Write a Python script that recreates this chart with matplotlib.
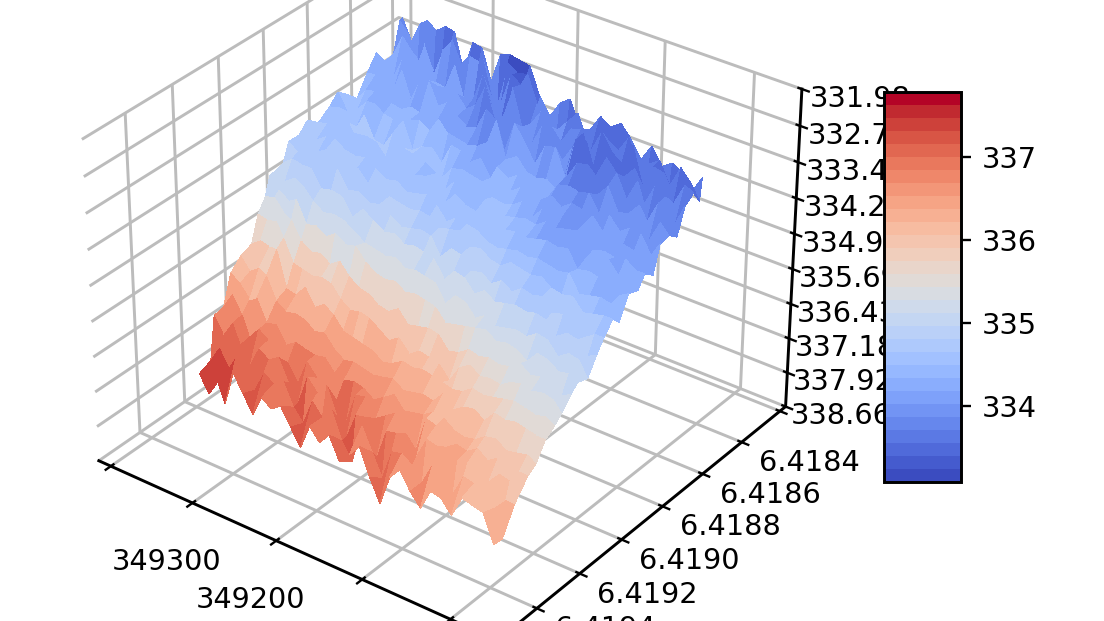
import matplotlib
matplotlib.use("Agg")
import matplotlib.pyplot as plt
import numpy as np
from matplotlib.ticker import LinearLocator, FormatStrFormatter
from mpl_toolkits.mplot3d import proj3d

x_values = [349384, 349370, 349356, 349342, 349328, 349314, 349300, 349286, 349272, 349258, 349244,
            349230, 349216, 349202, 349188, 349174, 349159, 349145, 349131, 349117, 349103, 349089,
            349075, 349061, 349047, 349033, 349019, 349005, 348991, 348977, 348963, 348949]
y_values = [6.41929, 6.41920, 6.41914, 6.41909, 6.41905, 6.41900, 6.41895, 6.41891, 6.41886, 6.41882,
            6.41877, 6.41872, 6.41868, 6.41863, 6.41859, 6.41854, 6.41849, 6.41845, 6.41840, 6.41836,
            6.41831, 6.41826, 6.41822, 6.41817, 6.41813, 6.41811]
y_shift = [0, .00001, .00002, .00004, .00005, .00006, .00007, .00008, .00009, .00010, .00011, .00012,
           .00013, .00014, .00015, .00016, .00017, .00018, .00019, .00020, .00021, .00022, .00023,
           .00024, .00025, .00026, .00027, .00028, .00029, .00030, .00031, .00033]
x_skew = [-15, -6, 4, 6, 7, 9, 11, 13, 15, 17, 18, 20, 22, 24, 26, 28, 29, 31, 33, 35, 37, 39, 40, 42, 44, 46]
x_shift = [0, 2, 3, 3, 3, 2, 0, 0, 2, 5, 10, 12, 14, 12, 10, 8, 6, 4, 2, 0, -2, -3, -4, -4, -4, -4]
row_weight = [1, 1, .9, .8, .7, .6, .5, .4, .3, .2, .1, 0, 0, 0, 0, 0, 0, 0, 0, 0, 0, 0, 0, 0, 0, 0, 0, 0, 0, 0, 0, 0]
z_values = [
    [337.4, 337.5, 336.8, 336.8, 336.2, 336.0, 335.9, 335.4, 335.2, 334.9, 335.0, 335.0, 334.7, 334.7, 334.5, 334.7, 334.5, 334.3, 334.5, 334.7, 334.3, 334.0, 334.3, 334.3, 333.7, 333.7],
    [337.7, 337.1, 337.1, 336.4, 336.3, 336.2, 335.7, 335.4, 335.1, 335.1, 335.1, 334.8, 334.8, 334.6, 334.8, 334.6, 334.4, 334.6, 334.7, 334.4, 334.2, 334.3, 334.5, 333.8, 333.9, 334.1],
    [337.3, 337.4, 336.7, 336.7, 336.5, 336.0, 335.7, 335.3, 335.3, 335.2, 334.9, 334.8, 334.6, 334.8, 334.6, 334.4, 334.6, 334.8, 334.4, 334.3, 334.3, 334.5, 334.0, 334.0, 334.3, 333.6],
    [337.6, 337.0, 337.0, 337.0, 336.3, 336.0, 335.6, 335.5, 335.3, 335.0, 334.9, 334.7, 334.8, 334.6, 334.5, 334.6, 334.8, 334.4, 334.3, 334.3, 334.4, 334.0, 334.2, 334.4, 333.8, 333.4],
    [336.8, 337.1, 337.3, 336.7, 336.7, 336.4, 336.3, 335.9, 335.6, 335.4, 335.1, 335.0, 334.7, 334.9, 334.6, 334.4, 334.6, 334.8, 334.4, 334.3, 334.3, 334.5, 333.9, 333.9, 334.3, 333.5],
    [337.1, 337.4, 336.8, 336.8, 336.6, 336.5, 336.3, 335.9, 335.7, 335.3, 335.2, 334.9, 334.6, 334.9, 334.6, 334.4, 334.6, 334.8, 334.4, 334.3, 334.4, 334.0, 334.1, 334.3, 333.7, 333.3],
    [337.4, 336.9, 336.9, 336.6, 336.9, 336.4, 336.0, 335.9, 335.6, 335.4, 335.1, 334.9, 334.9, 334.6, 334.5, 334.7, 334.8, 334.4, 334.3, 334.4, 334.4, 333.9, 334.1, 334.3, 333.4, 333.3],
    [336.9, 337.0, 336.7, 337.0, 336.7, 336.4, 336.3, 335.8, 335.7, 335.2, 335.1, 335.2, 334.8, 334.8, 334.6, 334.6, 334.4, 334.6, 334.8, 334.3, 334.2, 334.3, 334.4, 333.7, 333.8, 334.0],
    [337.0, 336.8, 337.1, 337.3, 336.7, 336.5, 336.1, 335.8, 335.5, 335.3, 335.2, 334.9, 334.9, 334.6, 334.7, 334.6, 334.5, 334.6, 334.6, 334.4, 334.3, 334.1, 334.1, 334.3, 333.5, 333.3],
    [336.8, 337.2, 337.4, 336.7, 336.7, 336.4, 336.2, 336.0, 335.7, 335.2, 335.3, 335.0, 334.8, 334.8, 334.6, 334.5, 334.6, 334.6, 334.5, 334.3, 334.5, 333.8, 334.0, 334.3, 333.5, 333.3],
    [337.1, 337.4, 336.7, 336.9, 336.6, 336.6, 336.4, 336.1, 335.8, 335.4, 335.3, 335.1, 334.9, 334.8, 334.7, 334.5, 334.4, 334.5, 334.7, 334.2, 334.0, 334.0, 333.9, 333.2, 333.7, 333.9],
    [337.4, 336.8, 336.9, 336.6, 336.8, 336.7, 336.4, 336.0, 335.8, 335.5, 335.3, 335.0, 335.0, 334.8, 334.6, 334.4, 334.5, 334.7, 334.2, 334.2, 334.1, 333.8, 333.3, 333.9, 334.1, 333.2],
    [336.8, 337.0, 336.6, 337.1, 336.8, 336.6, 336.4, 336.0, 335.9, 335.5, 335.2, 335.1, 334.9, 334.7, 334.5, 334.5, 334.7, 334.4, 334.2, 334.2, 334.0, 333.3, 333.9, 333.9, 333.2, 333.1],
    [337.0, 336.7, 337.1, 337.4, 336.7, 336.6, 336.4, 336.1, 335.9, 335.4, 335.3, 335.0, 334.8, 334.7, 334.6, 334.7, 334.4, 334.3, 334.3, 334.1, 333.5, 333.9, 333.9, 333.2, 333.3, 333.1],
    [336.7, 337.2, 337.4, 336.7, 336.7, 336.6, 336.5, 336.2, 335.7, 335.5, 335.2, 335.0, 334.8, 334.8, 334.8, 334.4, 334.4, 334.3, 334.1, 333.9, 333.6, 334.4, 333.2, 333.3, 333.2, 333.1],
    [337.1, 337.5, 336.8, 336.6, 336.8, 336.5, 336.4, 336.0, 335.9, 335.4, 335.2, 335.0, 335.1, 334.7, 334.6, 334.5, 334.4, 334.3, 334.4, 334.3, 334.3, 333.7, 333.9, 334.0, 333.7, 333.6],
    [336.8, 336.6, 336.7, 336.9, 336.6, 336.4, 336.2, 336.2, 335.8, 335.4, 335.2, 335.3, 334.8, 334.6, 334.6, 334.5, 334.4, 334.5, 334.4, 334.4, 334.1, 334.0, 334.1, 333.6, 333.8, 333.9],
    [336.5, 337.0, 337.4, 336.7, 336.4, 336.5, 336.2, 336.0, 335.7, 335.4, 335.5, 335.0, 334.8, 334.8, 334.6, 334.5, 334.6, 334.5, 334.4, 334.2, 334.3, 334.3, 333.6, 333.8, 334.0, 333.5],
    [337.0, 337.4, 336.7, 336.5, 336.6, 336.4, 336.1, 336.0, 335.7, 335.6, 335.2, 335.0, 335.0, 334.7, 334.7, 334.6, 334.5, 334.4, 334.2, 334.4, 334.3, 333.8, 333.7, 334.0, 333.7, 333.3],
    [337.4, 336.7, 336.6, 336.8, 336.5, 336.3, 336.1, 336.0, 335.9, 335.5, 335.2, 335.2, 334.9, 334.8, 334.7, 334.5, 334.4, 334.2, 334.4, 334.2, 334.2, 333.7, 334.1, 333.6, 333.4, 333.8],
    [336.7, 336.6, 336.9, 337.0, 336.4, 336.3, 336.1, 336.2, 335.8, 335.4, 335.4, 335.0, 335.0, 334.8, 334.6, 334.4, 334.3, 334.4, 334.2, 334.3, 334.3, 334.2, 333.7, 333.5, 333.9, 333.7],
    [336.4, 336.7, 336.8, 336.2, 336.2, 336.0, 336.1, 335.8, 335.6, 335.3, 335.2, 335.1, 334.8, 334.6, 334.5, 334.4, 334.3, 334.1, 334.0, 333.9, 333.9, 333.3, 333.3, 333.8, 333.4, 333.3],
    [336.7, 336.9, 336.3, 336.2, 336.2, 336.2, 336.0, 335.6, 335.6, 335.2, 335.3, 335.0, 334.9, 334.6, 334.5, 334.3, 334.1, 334.1, 334.1, 333.8, 333.5, 333.2, 333.9, 333.3, 333.6, 333.4],
    [336.9, 336.4, 336.3, 336.5, 336.3, 336.0, 335.8, 335.7, 335.5, 335.3, 335.2, 334.9, 334.7, 334.6, 334.4, 334.2, 334.1, 334.0, 333.9, 333.8, 333.4, 333.8, 333.3, 333.6, 333.7, 333.2],
    [336.4, 336.4, 336.6, 336.3, 336.3, 335.9, 335.8, 335.6, 335.5, 335.2, 335.1, 334.9, 334.7, 334.5, 334.4, 334.2, 334.0, 333.9, 333.9, 333.7, 333.9, 333.3, 333.5, 333.7, 333.3, 333.4],
    [336.4, 336.7, 336.3, 336.3, 336.2, 336.0, 335.7, 335.6, 335.4, 335.2, 335.1, 334.8, 334.6, 334.6, 334.4, 334.1, 333.9, 333.9, 333.9, 334.0, 333.6, 333.5, 333.7, 333.2, 333.8, 333.7],
    [336.6, 336.2, 336.2, 336.1, 336.0, 335.7, 335.6, 335.4, 335.2, 335.3, 334.9, 334.8, 334.8, 334.6, 334.3, 334.4, 334.3, 334.3, 334.1, 333.9, 334.0, 333.9, 333.4, 333.9, 333.6, 333.3],
    [336.1, 336.2, 336.0, 336.2, 335.9, 335.7, 335.5, 335.3, 335.3, 335.0, 334.9, 335.0, 334.7, 334.5, 334.6, 334.3, 334.3, 334.2, 334.0, 334.1, 333.9, 333.4, 334.0, 333.4, 333.4, 333.6],
    [336.1, 336.0, 336.3, 336.0, 336.0, 335.6, 335.5, 335.3, 335.2, 335.0, 335.1, 334.8, 334.7, 334.7, 334.5, 334.3, 334.1, 334.2, 334.1, 333.9, 333.6, 334.1, 333.5, 333.4, 333.8, 333.4],
    [336.1, 336.4, 336.0, 335.9, 335.9, 335.6, 335.5, 335.2, 335.2, 335.1, 334.9, 334.8, 334.9, 334.6, 334.4, 334.1, 334.3, 334.1, 334.1, 333.9, 334.2, 333.6, 333.6, 333.9, 333.3, 333.5],
    [336.6, 336.1, 336.0, 336.0, 335.8, 335.6, 335.4, 335.2, 335.3, 335.0, 334.9, 335.0, 334.7, 334.5, 334.4, 334.4, 334.2, 334.2, 334.1, 334.2, 333.7, 333.7, 334.0, 333.4, 333.5, 333.7],
    [336.3, 336.0, 336.1, 335.9, 335.8, 335.5, 335.4, 335.3, 335.1, 335.0, 335.1, 334.8, 334.6, 334.4, 334.6, 334.2, 334.3, 334.1, 334.3, 333.8, 333.8, 334.0, 333.5, 333.4, 333.7, 333.3],
]
x_ticks = [349400, 349300, 349200, 349100, 349000]
x_labels = ["", "349300", "349200", "349100", "349000"]
y_ticks = [6.4182, 6.4184, 6.4186, 6.4188, 6.4190, 6.4192, 6.4194]
y_labels = ["", "6.4184", "6.4186", "6.4188", "6.4190", "6.4192", "6.4194"]

X, Y = np.meshgrid(x_values, y_values, indexing="ij")
X = X + np.array(x_skew)[None, :] + np.outer(row_weight, x_shift)
Y = Y + np.array(y_shift)[:, None]
Z = np.array(z_values)

plt.rcParams["font.size"] = 9.8
plt.rcParams["grid.linewidth"] = 1.0
plt.rcParams["grid.color"] = "#bcbcbc"
plt.rcParams["axes.linewidth"] = 1.0
fig = plt.figure(figsize=(1104 / 211, 621 / 211), dpi=211)
ax = fig.add_axes([45 / 1104, -57 / 621, 780 / 1104, 780 / 621], projection="3d")
ax.view_init(elev=32, azim=-53)
surf = ax.plot_surface(X, Y, Z, rstride=1, cstride=1, cmap=plt.get_cmap("coolwarm").resampled(30),
                       vmin=333.08, vmax=337.78, linewidth=0, antialiased=False)
ax.set_xlim(349415, 348948)
ax.set_ylim(6.41958, 6.41817)
ax.set_zlim(338.66, 331.98)
ax.set_xticks(x_ticks)
ax.set_xticklabels(x_labels)
ax.set_yticks(y_ticks)
ax.set_yticklabels([""] * len(y_ticks))
ax.zaxis.set_major_locator(LinearLocator(10))
ax.zaxis.set_major_formatter(FormatStrFormatter("%.02f"))
for axis in [ax.xaxis, ax.yaxis, ax.zaxis]:
    axis.set_pane_color((1, 1, 1, 1))

M = ax.get_proj()
for t, lab in zip(y_ticks, y_labels):
    px, py, _ = proj3d.proj_transform(348948, t, 338.66, M)
    ax.annotate(lab, (px, py), xytext=(68, -21), textcoords="offset pixels", ha="center", va="center",
                annotation_clip=False)

cax = fig.add_axes([884 / 1104, 1 - 482 / 621, 77 / 1104, 390 / 621])
fig.colorbar(surf, cax=cax, ticks=[334, 335, 336, 337])
fig.savefig("out.png", dpi=211)
